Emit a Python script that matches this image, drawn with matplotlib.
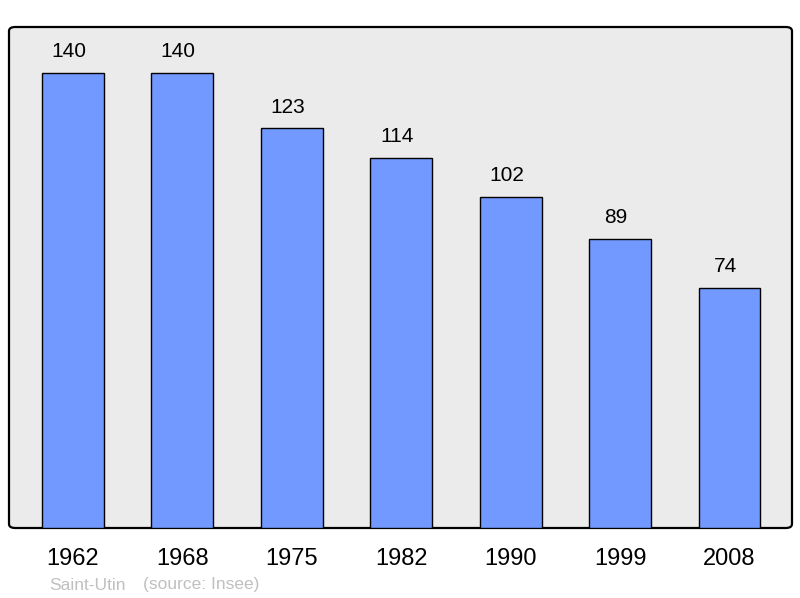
import matplotlib
matplotlib.use('Agg')
import matplotlib.pyplot as plt
from matplotlib.patches import FancyBboxPatch

years = ['1962', '1968', '1975', '1982', '1990', '1999', '2008']
population = [140, 140, 123, 114, 102, 89, 74]

plt.rcParams['font.family'] = ['Liberation Sans', 'DejaVu Sans']

fig = plt.figure(figsize=(8, 5.98), dpi=100)
ax = fig.add_axes([9/800, 70/598, 783/800, 501/598])
ax.set_xlim(-0.584, 6.571)
ax.set_ylim(0, 154.2)
ax.axis('off')

# background box with slightly rounded corners
bg = FancyBboxPatch((0, 0), 1, 1, boxstyle='round,pad=0,rounding_size=0.008',
                    transform=ax.transAxes, facecolor='#ebebeb', edgecolor='black',
                    linewidth=1.6, clip_on=False, zorder=0)
ax.add_patch(bg)

x = range(len(years))
bars = ax.bar(x, population, width=0.566, color='#7299ff', edgecolor='black',
              linewidth=1.0, zorder=2)

# value labels sit a bit left of the bar centre, like the original
for xi, v in zip(x, population):
    ax.annotate(str(v), (xi, v), xytext=(-3, 15.3), textcoords='offset points',
                ha='center', va='center', fontsize=15)

for xi, y in zip(x, years):
    ax.annotate(y, (xi, 0), xytext=(0, -22), textcoords='offset points',
                ha='center', va='center', fontsize=17, annotation_clip=False)

fig.text(49/800, 1 - 585/598, 'Saint-Utin', color='#c0c0c0', fontsize=12.5, va='center')
fig.text(143/800, 1 - 585/598, '(source: Insee)', color='#c0c0c0', fontsize=12.5, va='center')

fig.savefig('out.png', dpi=100)
